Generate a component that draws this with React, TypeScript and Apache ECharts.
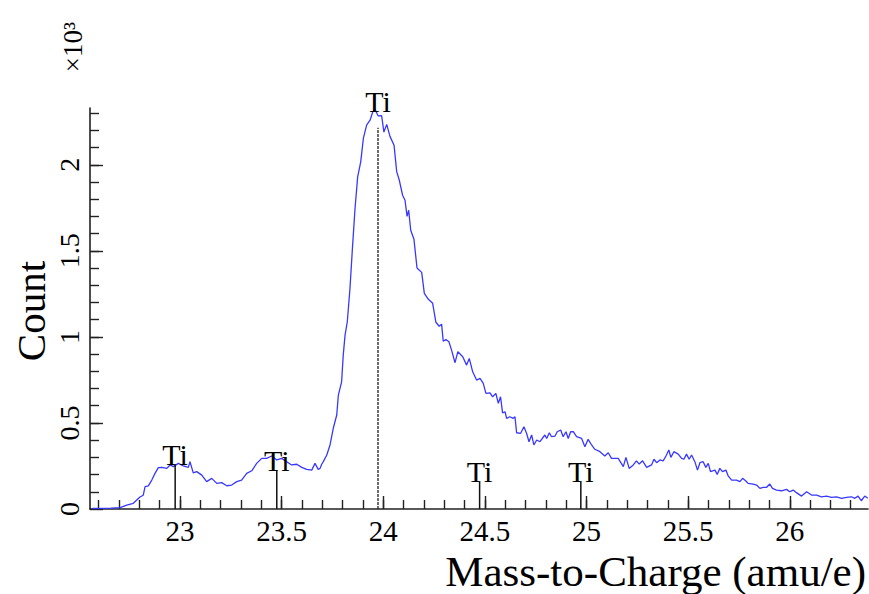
import React, { useEffect, useRef } from "react";
import * as echarts from "echarts";

// Mass-to-charge (amu/e) and counts (x10^3)
const mass = [
  22.57, 22.61, 22.66, 22.705, 22.738, 22.77, 22.803, 22.819, 22.828, 22.844,
  22.861, 22.877, 22.893, 22.91, 22.935, 22.951, 22.967, 22.992, 23.016, 23.041,
  23.049, 23.065, 23.082, 23.107, 23.131, 23.156, 23.181, 23.205, 23.23, 23.254,
  23.279, 23.303, 23.328, 23.353, 23.377, 23.402, 23.426, 23.451, 23.476, 23.5,
  23.525, 23.549, 23.574, 23.599, 23.623, 23.648, 23.664, 23.68, 23.689, 23.697,
  23.705, 23.722, 23.738, 23.754, 23.771, 23.779, 23.795, 23.803, 23.812, 23.823,
  23.836, 23.848, 23.861, 23.874, 23.889, 23.902, 23.918, 23.935, 23.948, 23.959,
  23.975, 23.992, 24.003, 24.017, 24.033, 24.053, 24.066, 24.079, 24.095, 24.107,
  24.117, 24.125, 24.135, 24.151, 24.166, 24.189, 24.202, 24.221, 24.243, 24.259,
  24.275, 24.287, 24.295, 24.308, 24.323, 24.336, 24.353, 24.367, 24.391, 24.41,
  24.423, 24.44, 24.459, 24.476, 24.492, 24.505, 24.525, 24.538, 24.554, 24.566,
  24.577, 24.587, 24.599, 24.607, 24.623, 24.639, 24.648, 24.656, 24.676, 24.692,
  24.705, 24.717, 24.73, 24.741, 24.755, 24.771, 24.795, 24.804, 24.817, 24.828,
  24.845, 24.856, 24.873, 24.885, 24.899, 24.91, 24.922, 24.935, 24.951, 24.976,
  24.992, 25.008, 25.025, 25.041, 25.066, 25.09, 25.107, 25.123, 25.156, 25.181,
  25.194, 25.21, 25.23, 25.246, 25.259, 25.276, 25.296, 25.32, 25.332, 25.345,
  25.361, 25.377, 25.391, 25.405, 25.415, 25.43, 25.451, 25.468, 25.479, 25.492,
  25.505, 25.517, 25.533, 25.546, 25.558, 25.574, 25.587, 25.599, 25.61, 25.632,
  25.643, 25.656, 25.669, 25.686, 25.697, 25.714, 25.738, 25.755, 25.768, 25.784,
  25.795, 25.82, 25.837, 25.853, 25.869, 25.886, 25.902, 25.915, 25.935, 25.96,
  25.984, 26.0, 26.017, 26.033, 26.058, 26.083, 26.107, 26.132, 26.156, 26.181,
  26.206, 26.23, 26.255, 26.279, 26.304, 26.32, 26.336, 26.352, 26.369, 26.384,
];
const counts = [
  0.003, 0.004, 0.005, 0.008, 0.023, 0.033, 0.07, 0.08, 0.13, 0.134,
  0.168, 0.207, 0.24, 0.242, 0.236, 0.256, 0.246, 0.265, 0.25, 0.242,
  0.275, 0.21, 0.217, 0.197, 0.159, 0.178, 0.149, 0.153, 0.135, 0.139,
  0.159, 0.168, 0.207, 0.222, 0.265, 0.294, 0.294, 0.308, 0.285, 0.294,
  0.275, 0.256, 0.26, 0.242, 0.23, 0.226, 0.265, 0.23, 0.236, 0.26,
  0.275, 0.314, 0.372, 0.469, 0.546, 0.662, 0.739, 0.894, 1.01, 1.088,
  1.28, 1.51, 1.746, 1.93, 2.017, 2.153, 2.23, 2.259, 2.307, 2.323,
  2.284, 2.285, 2.19, 2.235, 2.165, 2.114, 1.96, 1.91, 1.823, 1.794,
  1.7, 1.736, 1.62, 1.567, 1.4, 1.375, 1.253, 1.22, 1.195, 1.085,
  1.062, 1.074, 0.975, 0.985, 0.972, 0.923, 0.85, 0.914, 0.885, 0.836,
  0.875, 0.797, 0.749, 0.759, 0.73, 0.672, 0.675, 0.652, 0.672, 0.614,
  0.652, 0.559, 0.565, 0.527, 0.536, 0.527, 0.536, 0.443, 0.44, 0.478,
  0.44, 0.391, 0.43, 0.372, 0.401, 0.391, 0.43, 0.41, 0.443, 0.42,
  0.424, 0.449, 0.459, 0.42, 0.449, 0.41, 0.449, 0.449, 0.42, 0.41,
  0.362, 0.405, 0.372, 0.347, 0.333, 0.308, 0.327, 0.294, 0.294, 0.246,
  0.3, 0.236, 0.256, 0.28, 0.261, 0.28, 0.242, 0.256, 0.289, 0.269,
  0.285, 0.28, 0.308, 0.343, 0.3, 0.333, 0.319, 0.294, 0.289, 0.319,
  0.289, 0.314, 0.275, 0.226, 0.269, 0.275, 0.242, 0.265, 0.217, 0.226,
  0.201, 0.236, 0.217, 0.226, 0.192, 0.168, 0.168, 0.159, 0.178, 0.163,
  0.149, 0.145, 0.139, 0.12, 0.126, 0.126, 0.145, 0.12, 0.11, 0.106,
  0.114, 0.1, 0.11, 0.095, 0.075, 0.1, 0.081, 0.081, 0.071, 0.075,
  0.068, 0.071, 0.062, 0.068, 0.071, 0.062, 0.075, 0.048, 0.075, 0.062,
];

// Ti isotope markers (doubly charged)
const tiMass = [22.976, 23.476, 23.974, 24.474, 24.972];
const tiHeight = [0.256, 0.227, 2.215, 0.157, 0.157];
const tiLabelLevel = [0.267, 0.232, 2.317, 0.168, 0.168];
const tiLabel = ["Ti", "Ti", "Ti", "Ti", "Ti"];

const xMajor = [23, 23.5, 24, 24.5, 25, 25.5, 26];
const xMinor = [
  22.6, 22.7, 22.8, 22.9, 23, 23.1, 23.2, 23.3, 23.4, 23.5, 23.6, 23.7, 23.8, 23.9,
  24, 24.1, 24.2, 24.3, 24.4, 24.5, 24.6, 24.7, 24.8, 24.9, 25, 25.1, 25.2, 25.3,
  25.4, 25.5, 25.6, 25.7, 25.8, 25.9, 26, 26.1, 26.2, 26.3,
];
const yMajor = [0, 0.5, 1, 1.5, 2];
const yMinor = [
  0.1, 0.2, 0.3, 0.4, 0.5, 0.6, 0.7, 0.8, 0.9, 1, 1.1, 1.2, 1.3, 1.4, 1.5, 1.6,
  1.7, 1.8, 1.9, 2, 2.1, 2.2, 2.3,
];

const X_MIN = 22.557;
const X_MAX = 26.385;
const Y_MIN = 0;
const Y_MAX = 2.33;

const FONT = "'Liberation Serif', 'Times New Roman', serif";
const AX = "#222";

export default function App() {
  const ref = useRef<HTMLDivElement>(null);
  useEffect(() => {
    if (!ref.current) return;
    const chart = echarts.init(ref.current, undefined, { renderer: "svg" });
    const lineData = mass.map((m, i) => [m, counts[i]]);
    const tiData = tiMass.map((m, i) => [m, tiHeight[i], tiLabelLevel[i], i]);

    const baseX = {
      type: "value" as const,
      min: X_MIN,
      max: X_MAX,
      position: "bottom" as const,
      splitLine: { show: false },
    };
    const baseY = {
      type: "value" as const,
      min: Y_MIN,
      max: Y_MAX,
      position: "left" as const,
      splitLine: { show: false },
    };

    chart.setOption({
      animation: false,
      backgroundColor: "#fff",
      grid: { left: 90, right: 1, top: 108, bottom: 85, containLabel: false },
      xAxis: [
        {
          ...baseX,
          axisLine: { show: true, lineStyle: { color: AX, width: 1.6 } },
          axisTick: {
            show: true,
            inside: true,
            length: 13,
            customValues: xMajor,
            lineStyle: { color: AX, width: 1.4 },
          },
          axisLabel: {
            show: true,
            customValues: xMajor,
            formatter: (v: number) => String(v),
            fontFamily: FONT,
            fontSize: 29,
            color: "#000",
            margin: 7,
          },
        },
        {
          ...baseX,
          axisLine: { show: false },
          axisTick: {
            show: true,
            inside: true,
            length: 9,
            customValues: xMinor,
            lineStyle: { color: AX, width: 1.4 },
          },
          axisLabel: { show: false },
        },
      ],
      yAxis: [
        {
          ...baseY,
          axisLine: { show: true, lineStyle: { color: AX, width: 1.6 } },
          axisTick: {
            show: true,
            inside: true,
            length: 13,
            customValues: yMajor,
            lineStyle: { color: AX, width: 1.4 },
          },
          axisLabel: {
            show: true,
            customValues: yMajor,
            rotate: 90,
            formatter: (v: number) => String(v),
            fontFamily: FONT,
            fontSize: 28,
            color: "#000",
            margin: 7,
          },
        },
        {
          ...baseY,
          axisLine: { show: false },
          axisTick: {
            show: true,
            inside: true,
            length: 9,
            customValues: yMinor,
            lineStyle: { color: AX, width: 1.4 },
          },
          axisLabel: { show: false },
        },
      ],
      series: [
        {
          type: "line",
          xAxisIndex: 0,
          yAxisIndex: 0,
          data: lineData,
          showSymbol: false,
          symbol: "none",
          lineStyle: { color: "#3838ff", width: 1.3 },
          z: 3,
        },
        {
          type: "custom",
          xAxisIndex: 0,
          yAxisIndex: 0,
          data: tiData,
          clip: false,
          z: 4,
          renderItem: (params: any, api: any) => {
            const m = api.value(0);
            const h = api.value(1);
            const lv = api.value(2);
            const idx = api.value(3);
            const p0 = api.coord([m, 0]);
            const p1 = api.coord([m, h]);
            const pl = api.coord([m, lv]);
            const isMain = h > 1;
            return {
              type: "group",
              children: [
                {
                  type: "line",
                  shape: { x1: p0[0], y1: p0[1], x2: p1[0], y2: p1[1] },
                  style: {
                    stroke: isMain ? "#222" : "#111",
                    lineWidth: isMain ? 1.3 : 1.5,
                    lineDash: isMain ? [3, 1] : null,
                  },
                },
                {
                  type: "text",
                  style: {
                    text: tiLabel[idx],
                    x: pl[0],
                    y: pl[1] + 6,
                    align: "center",
                    verticalAlign: "bottom",
                    fontFamily: FONT,
                    fontSize: 30,
                    fill: "#000",
                  },
                },
              ],
            };
          },
        },
      ],
      graphic: [
        {
          type: "text",
          x: 73,
          y: 47,
          rotation: Math.PI / 2,
          style: {
            text: "×10³",
            align: "center",
            verticalAlign: "middle",
            fontFamily: FONT,
            fontSize: 27,
            fill: "#000",
          },
        },
        {
          type: "text",
          x: 31,
          y: 311,
          rotation: Math.PI / 2,
          style: {
            text: "Count",
            align: "center",
            verticalAlign: "middle",
            fontFamily: FONT,
            fontSize: 41,
            fill: "#000",
          },
        },
        {
          type: "text",
          x: 866,
          y: 571,
          style: {
            text: "Mass-to-Charge (amu/e)",
            align: "right",
            verticalAlign: "middle",
            fontFamily: FONT,
            fontSize: 43,
            lineHeight: 40,
            fill: "#000",
          },
        },
      ],
    });
    return () => chart.dispose();
  }, []);
  return (
    <div
      ref={ref}
      style={{ position: "fixed", left: 0, top: 0, width: 869, height: 594 }}
    />
  );
}
